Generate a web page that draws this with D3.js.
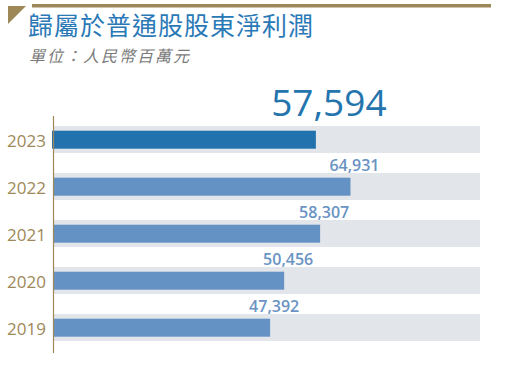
<!DOCTYPE html>
<html>
<head>
<meta charset="utf-8">
<script src="https://cdn.jsdelivr.net/npm/d3@7"></script>
<style>
  body { margin: 0; background: #fff; }
  svg { display: block; }
</style>
</head>
<body>
<div id="chart"></div>
<script>
let years = ['2023', '2022', '2021', '2020', '2019'];
let profits = [57594, 64931, 58307, 50456, 47392];
let titleText = '歸屬於普通股股東淨利潤';
let unitText = '單位：人民幣百萬元';

let width = 512, height = 376;
let gold = '#9e8858';

let svg = d3.select('#chart')
    .append('svg')
        .attr('width', width)
        .attr('height', height);

// header
svg.append('rect')
    .attr('x', 32).attr('y', 4)
    .attr('width', 459).attr('height', 3.5)
    .attr('fill', gold);

svg.append('path')
    .attr('d', 'M8,6 L26,6 L8,24 Z')
    .attr('fill', gold);

svg.append('text')
    .attr('x', 28).attr('y', 35)
    .style('font-family', '"Noto Sans CJK TC", "Noto Sans CJK SC", sans-serif')
    .style('font-size', '25px')
    .style('letter-spacing', '1px')
    .style('fill', '#2a79b7')
    .text(titleText);

svg.append('text')
    .attr('x', 29).attr('y', 62)
    .style('font-family', '"Noto Sans CJK TC", "Noto Sans CJK SC", sans-serif')
    .style('font-size', '16px')
    .style('font-style', 'italic')
    .style('letter-spacing', '2px')
    .style('fill', '#7a7a7a')
    .text(unitText);

let data = years.map(function(y, i) { return { year: y, value: profits[i] }; });

let x = d3.scaleLinear()
    .domain([0, 93200])
    .range([53, 480]);

let pad = 20 / 47;
let y = d3.scaleBand()
    .domain(years)
    .range([116, 351])
    .paddingInner(pad)
    .paddingOuter(pad / 2);

let rows = svg.selectAll('.row')
    .data(data)
    .enter()
    .append('g')
        .attr('class', 'row');

rows.append('rect')
    .attr('x', x(0))
    .attr('y', function(d) { return y(d.year); })
    .attr('width', x.range()[1] - x(0))
    .attr('height', y.bandwidth())
    .attr('fill', '#e2e6ea');

rows.append('rect')
    .attr('x', function(d, i) { return i === 0 ? x(0) - 1 : x(0); })
    .attr('y', function(d) { return y(d.year) + 4.7; })
    .attr('width', function(d) { return x(d.value) - x(0); })
    .attr('height', 18)
    .attr('fill', function(d, i) { return i === 0 ? '#2272ad' : '#6592c4'; });

rows.append('text')
    .attr('x', 46)
    .attr('y', function(d) { return y(d.year) + y.bandwidth() / 2 + 7; })
    .attr('text-anchor', 'end')
    .style('font-family', '"Open Sans", sans-serif')
    .style('font-size', '17px')
    .style('fill', gold)
    .text(function(d) { return d.year; });

rows.append('text')
    .attr('x', function(d, i) { return x(d.value) + (i === 0 ? 12 : 4); })
    .attr('y', function(d, i) { return i === 0 ? y(d.year) - 10.5 : y(d.year) - 2.5; })
    .attr('text-anchor', 'middle')
    .style('font-family', '"Open Sans", sans-serif')
    .style('font-size', function(d, i) { return i === 0 ? '37px' : '16px'; })
    .style('font-weight', function(d, i) { return i === 0 ? 400 : 600; })
    .style('fill', function(d, i) { return i === 0 ? '#2474ae' : '#6a93c3'; })
    .text(function(d) { return d3.format(',')(d.value); });

// axis line
svg.append('line')
    .attr('x1', 53.5).attr('x2', 53.5)
    .attr('y1', 116).attr('y2', 353)
    .attr('stroke', gold)
    .attr('stroke-width', 1.2);
</script>
</body>
</html>
